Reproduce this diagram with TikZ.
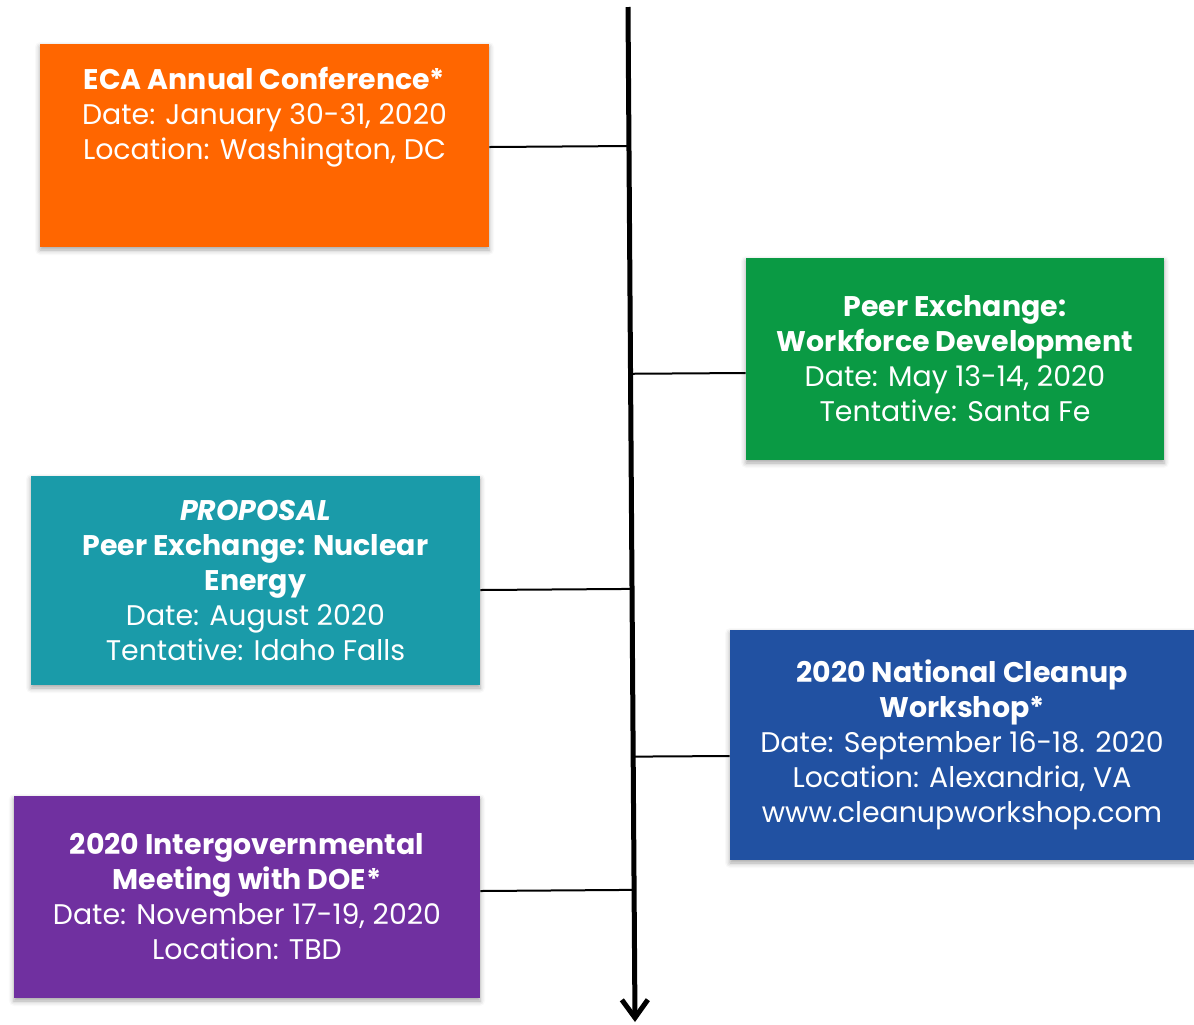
\documentclass[tikz,border=0pt]{standalone}
\usepackage{fontspec}
\setmainfont{Poppins}
\usetikzlibrary{arrows.meta,calc,shadows.blur}

\definecolor{ecaorange}{HTML}{FF6600}
\definecolor{ecagreen}{HTML}{0A9A44}
\definecolor{ecateal}{HTML}{1A9BA9}
\definecolor{ecablue}{HTML}{2151A2}
\definecolor{ecapurple}{HTML}{7030A0}

\begin{document}
\begin{tikzpicture}[
        x=0.5pt, y=-0.5pt,
        box/.style={rectangle, draw=none, text=white, align=center, inner sep=0pt,
            font=\fontsize{14.2}{17.5}\selectfont,
            blur shadow={shadow xshift=0pt, shadow yshift=-1.5pt, shadow blur radius=2.5pt, shadow opacity=35}},
        eca/.style={box, fill=ecaorange, minimum width=224.5pt, minimum height=101.5pt},
        peer/.style={box, fill=ecagreen, minimum width=209pt, minimum height=101pt},
        proposal/.style={box, fill=ecateal, minimum width=224.5pt, minimum height=104.5pt},
        cleanup/.style={box, fill=ecablue, minimum width=232pt, minimum height=115pt},
        intergov/.style={box, fill=ecapurple, minimum width=233pt, minimum height=101pt},
        axis/.style={line width=2.5pt, -{Straight Barb[length=9pt, width=13pt]}},
        link/.style={line width=1pt}
    ]
    \useasboundingbox (0,0) rectangle (1194,1024);

    % Timeline
    \coordinate (top) at (628,7);
    \coordinate (bottom) at (635,1022);
    \draw[axis] (top) -- (bottom);

    % Events, left side
    \node[eca] (conf) at (264.5,145.5) {\textbf{ECA Annual Conference*}\\Date: January 30-31, 2020\\Location: Washington, DC\\[9.5pt]\strut};
    \node[proposal] (nuclear) at (255.5,580.5) {\textbf{\textit{PROPOSAL}}\\\textbf{Peer Exchange: Nuclear}\\\textbf{Energy}\\Date: August 2020\\Tentative: Idaho Falls};
    \node[intergov] (doe) at (247,897) {\textbf{2020 Intergovernmental}\\\textbf{Meeting with DOE*}\\Date: November 17-19, 2020\\Location: TBD};

    % Events, right side
    \node[peer] (workforce) at (955,359) {\textbf{Peer Exchange:}\\\textbf{Workforce Development}\\Date: May 13-14, 2020\\Tentative: Santa Fe};
    \node[cleanup] (workshop) at (962,745) {\textbf{2020 National Cleanup}\\\textbf{Workshop*}\\Date: September 16-18. 2020\\Location: Alexandria, VA\\www.cleanupworkshop.com};

    % Where the ticks leave the boxes
    \coordinate (e1) at (conf.east |- 0,147);
    \coordinate (e2) at (workforce.west |- 0,373);
    \coordinate (e3) at (nuclear.east |- 0,590);
    \coordinate (e4) at (workshop.west |- 0,756);
    \coordinate (e5) at (doe.east |- 0,891);

    % Ticks on the timeline
    \coordinate (t1) at ($(top)!(e1)!(bottom)$);
    \coordinate (t2) at ($(top)!(e2)!(bottom)$);
    \coordinate (t3) at ($(top)!(e3)!(bottom)$);
    \coordinate (t4) at ($(top)!(e4)!(bottom)$);
    \coordinate (t5) at ($(top)!(e5)!(bottom)$);
    \draw[link] (e1) -- (t1);
    \draw[link] (t2) -- (e2);
    \draw[link] (e3) -- (t3);
    \draw[link] (t4) -- (e4);
    \draw[link] (e5) -- (t5);

\end{tikzpicture}
\end{document}
